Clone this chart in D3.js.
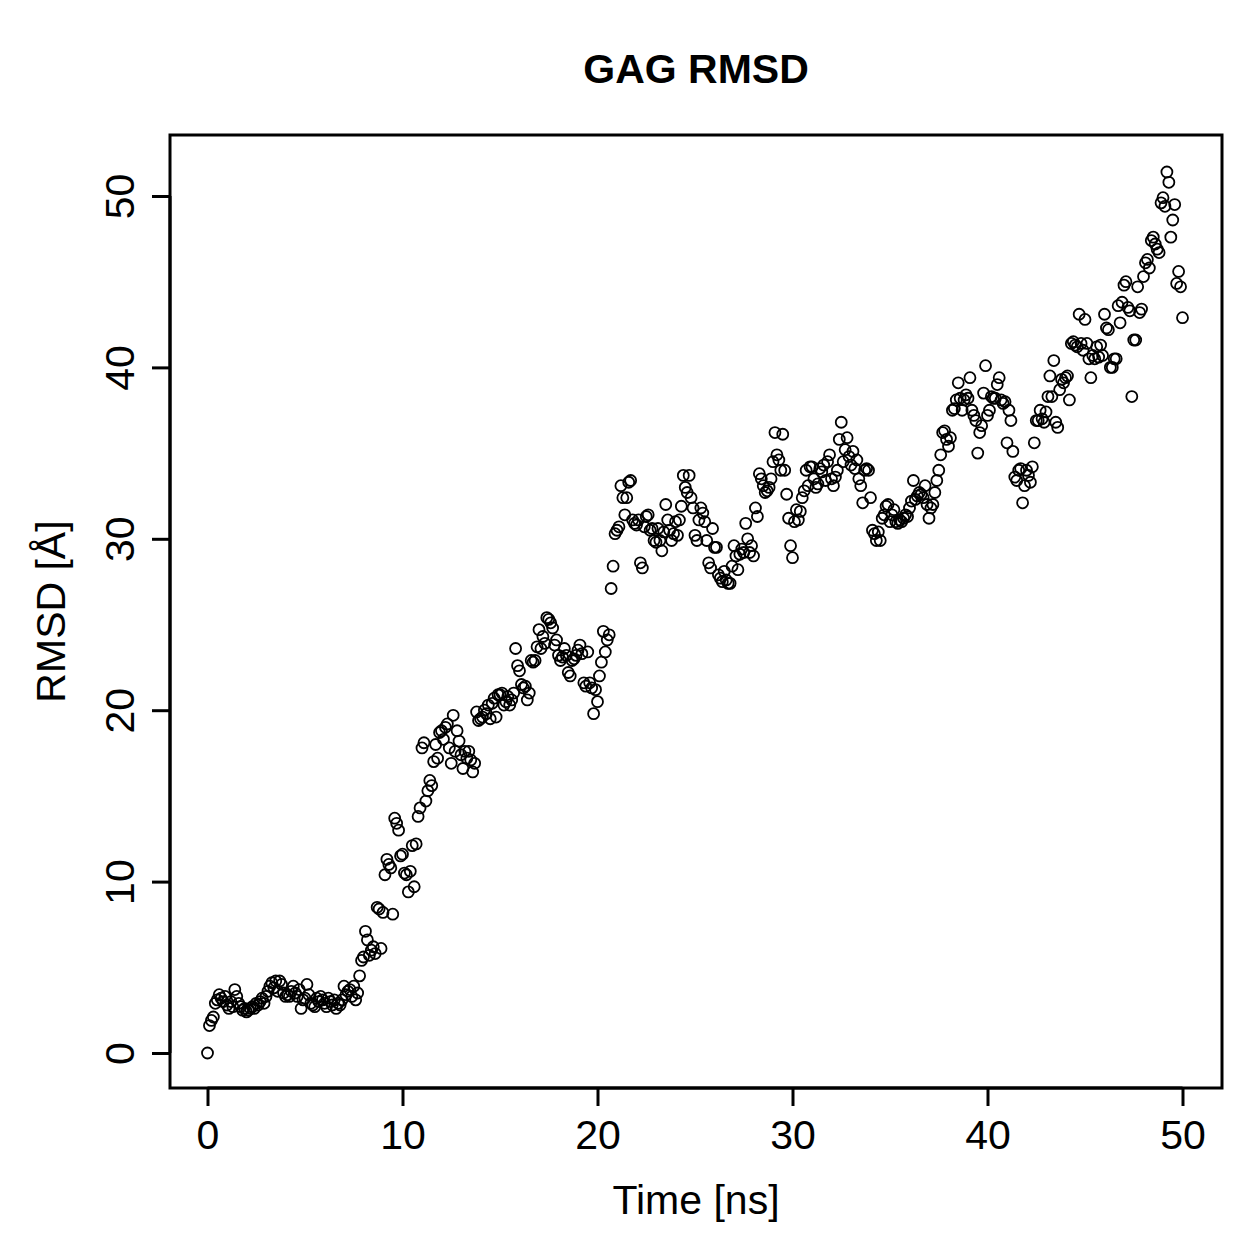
<!DOCTYPE html>
<html>
<head>
<meta charset="utf-8">
<script src="https://cdn.jsdelivr.net/npm/d3@7"></script>
<style>
  html, body { margin: 0; padding: 0; background: #fff; }
  svg { display: block; }
  text { font-family: "Liberation Sans", Arial, Helvetica, sans-serif; fill: #000; }
</style>
</head>
<body>
<svg id="chart" width="1259" height="1259"></svg>
<script>
// ---- Data (RMSD in Å, sampled every 0.1 ns from 0 to 50 ns) ----
const timeStep = 0.1;
const rmsd_0_10 = [
  0.0, 1.6, 1.9, 2.1, 2.9, 3.1, 3.4, 3.2, 3.0, 3.3,
  2.8, 2.6, 3.0, 2.7, 3.7, 3.3, 2.9, 2.7, 2.5, 2.6,
  2.4, 2.5, 2.6, 2.7, 2.6, 2.9, 2.8, 3.0, 3.2, 2.9,
  3.3, 3.6, 3.9, 4.1, 3.8, 4.2, 3.6, 4.2, 4.0, 3.5,
  3.3, 3.4, 3.3, 3.6, 3.9, 3.5, 3.3, 3.7, 2.6, 3.1,
  3.2, 4.0, 3.4, 2.9, 2.8, 2.7, 3.2, 3.0, 3.3, 3.1,
  2.9, 2.7, 3.2, 3.0, 2.8, 3.1, 2.6, 2.9, 2.8, 3.1,
  3.9, 3.4, 3.6, 3.7, 3.3, 3.9, 3.1, 3.5, 4.5, 5.4,
  5.6, 7.1, 6.6, 5.7, 6.0, 6.2, 5.8, 8.5, 8.4, 6.1,
  8.2, 10.4, 11.3, 11.0, 10.8, 8.1, 13.7, 13.4, 13.0, 11.5
];
const rmsd_10_20 = [
  11.6, 10.5, 10.4, 9.4, 10.6, 12.1, 9.7, 12.2, 13.8, 14.3,
  17.8, 18.1, 14.7, 15.3, 15.9, 15.6, 17.0, 18.0, 17.2, 18.7,
  18.8, 18.3, 19.0, 19.2, 17.8, 16.9, 19.7, 17.6, 18.8, 18.2,
  17.4, 16.6, 17.6, 17.2, 17.6, 17.1, 16.4, 16.9, 19.9, 19.4,
  19.5, 19.6, 20.0, 19.8, 20.3, 19.5, 20.4, 20.7, 19.6, 20.9,
  20.9, 21.0, 20.3, 20.5, 20.8, 20.3, 20.6, 21.0, 23.6, 22.6,
  22.3, 21.5, 21.3, 21.4, 20.6, 21.0, 22.9, 22.8, 22.9, 23.7,
  24.7, 23.6, 24.3, 23.9, 25.4, 25.3, 25.1, 24.8, 23.8, 24.1,
  23.2, 22.9, 23.1, 23.6, 23.2, 22.2, 22.0, 22.9, 23.0, 23.2,
  23.5, 23.8, 23.3, 21.6, 21.4, 23.4, 21.6, 21.3, 19.8, 21.2
];
const rmsd_20_30 = [
  20.5, 22.0, 22.8, 24.6, 23.4, 24.1, 24.4, 27.1, 28.4, 30.3,
  30.5, 30.7, 33.1, 32.4, 31.4, 32.4, 33.3, 33.4, 31.1, 30.9,
  30.8, 31.1, 28.6, 28.3, 30.7, 31.3, 31.4, 30.5, 30.6, 29.9,
  29.8, 30.6, 29.9, 29.3, 30.4, 32.0, 31.1, 30.5, 29.9, 30.3,
  31.0, 30.2, 31.1, 31.9, 33.7, 33.0, 32.7, 33.7, 32.4, 31.8,
  30.2, 29.9, 31.1, 31.8, 31.5, 31.0, 29.9, 28.6, 28.3, 30.6,
  29.5, 29.5, 27.9, 27.7, 27.5, 28.1, 27.6, 27.4, 27.4, 28.4,
  29.6, 29.0, 28.2, 29.1, 29.4, 29.2, 30.9, 30.0, 29.2, 29.6,
  29.0, 31.8, 31.3, 33.8, 33.5, 33.1, 32.7, 32.8, 33.0, 33.5,
  34.5, 36.2, 34.9, 34.6, 34.0, 36.1, 34.0, 32.6, 31.2, 29.6
];
const rmsd_30_40 = [
  28.9, 31.0, 31.7, 31.1, 31.6, 32.4, 32.8, 34.0, 33.1, 34.2,
  34.2, 33.5, 33.0, 33.2, 34.1, 33.9, 34.3, 33.4, 34.5, 34.9,
  33.5, 33.1, 33.6, 34.0, 35.8, 36.8, 34.5, 35.2, 35.9, 34.8,
  34.3, 35.1, 34.1, 34.6, 33.5, 33.1, 32.1, 34.0, 34.1, 34.0,
  32.4, 30.5, 30.3, 29.9, 30.4, 29.9, 31.2, 31.4, 31.9, 32.0,
  31.0, 31.4, 31.7, 31.0, 30.9, 31.1, 31.0, 31.2, 31.4, 31.3,
  31.8, 32.2, 33.4, 32.3, 32.5, 32.7, 32.6, 32.4, 33.1, 32.0,
  31.2, 31.8, 32.0, 32.7, 33.4, 34.0, 34.9, 36.2, 36.3, 35.8,
  35.4, 35.9, 37.5, 37.6, 38.1, 39.1, 38.2, 37.5, 38.1, 38.4,
  38.2, 39.4, 37.5, 37.2, 36.9, 35.0, 36.2, 36.6, 38.5, 40.1
];
const rmsd_40_50 = [
  37.2, 37.5, 38.3, 38.2, 38.2, 39.0, 39.4, 38.1, 37.9, 38.0,
  35.6, 37.5, 36.9, 35.1, 33.6, 33.4, 34.0, 34.1, 32.1, 33.1,
  34.0, 33.7, 33.3, 34.2, 35.6, 36.9, 36.9, 37.5, 37.0, 36.8,
  37.4, 38.3, 39.5, 38.3, 40.4, 36.8, 36.5, 38.7, 39.3, 39.1,
  39.4, 39.5, 38.1, 41.4, 41.5, 41.3, 41.2, 43.1, 41.4, 41.0,
  42.8, 41.4, 40.5, 39.4, 40.7, 40.5, 41.2, 40.6, 41.3, 40.7,
  43.1, 42.3, 42.2, 40.0, 40.0, 40.5, 40.5, 43.6, 42.6, 43.8,
  44.8, 45.0, 43.5, 43.3, 38.3, 41.6, 41.6, 44.7, 43.2, 43.4,
  45.3, 46.1, 46.3, 45.8, 47.4, 47.6, 47.2, 46.9, 46.7, 49.6,
  49.9, 49.4, 51.4, 50.8, 47.6, 48.6, 49.5, 44.9, 45.6, 44.7,
  42.9
];
const xTicks = [0, 10, 20, 30, 40, 50];
const yTicks = [0, 10, 20, 30, 40, 50];
const titleText = "GAG RMSD";
const xLabel = "Time [ns]";
const yLabel = "RMSD [Å]";

const rmsd = [].concat(rmsd_0_10, rmsd_10_20, rmsd_20_30, rmsd_30_40, rmsd_40_50);
const points = rmsd.map((v, i) => ({ t: +(i * timeStep).toFixed(1), v }));

// ---- Layout ----
const svg = d3.select("#chart");
const box = { left: 170, right: 1222, top: 135, bottom: 1088 };

const x = d3.scaleLinear().domain([0, 50]).range([207.5, 1182.5]);
const y = d3.scaleLinear().domain([0, 50]).range([1053, 196]);

// Points
svg.append("g")
  .selectAll("circle")
  .data(points)
  .join("circle")
  .attr("cx", d => x(d.t))
  .attr("cy", d => y(d.v))
  .attr("r", 5.5)
  .attr("fill", "none")
  .attr("stroke", "#000")
  .attr("stroke-width", 1.8);

// Box
svg.append("rect")
  .attr("x", box.left).attr("y", box.top)
  .attr("width", box.right - box.left).attr("height", box.bottom - box.top)
  .attr("fill", "none").attr("stroke", "#000").attr("stroke-width", 3);

// X axis
const xAxis = d3.axisBottom(x).tickValues(xTicks).tickSize(18).tickPadding(14).tickFormat(d3.format("d"));
const gx = svg.append("g").attr("transform", `translate(0,${box.bottom})`).call(xAxis);
gx.select(".domain").attr("stroke-width", 3).attr("d", `M${x(0)},0H${x(50)}`);
gx.selectAll(".tick line").attr("stroke-width", 3);
gx.selectAll(".tick text").style("font-size", "41px").style("font-family", "'Liberation Sans', Arial, sans-serif").attr("fill", "#000");

// Y axis
const yAxis = d3.axisLeft(y).tickValues(yTicks).tickSize(18).tickPadding(14).tickFormat(d3.format("d"));
const gy = svg.append("g").attr("transform", `translate(${box.left},0)`).call(yAxis);
gy.select(".domain").attr("stroke-width", 3).attr("d", `M0,${y(0)}V${y(50)}`);
gy.selectAll(".tick line").attr("stroke-width", 3);
gy.selectAll(".tick text")
  .style("font-size", "41px")
  .style("font-family", "'Liberation Sans', Arial, sans-serif")
  .attr("fill", "#000")
  .attr("x", null).attr("dy", null)
  .attr("text-anchor", "middle")
  .attr("transform", "translate(-36,0) rotate(-90)");

// Title and labels
svg.append("text")
  .attr("x", (box.left + box.right) / 2).attr("y", 83)
  .attr("text-anchor", "middle")
  .style("font-size", "41px").style("font-weight", "bold")
  .text(titleText);

svg.append("text")
  .attr("x", (box.left + box.right) / 2).attr("y", 1214)
  .attr("text-anchor", "middle")
  .style("font-size", "41px")
  .text(xLabel);

svg.append("text")
  .attr("transform", `translate(65,${(box.top + box.bottom) / 2}) rotate(-90)`)
  .attr("text-anchor", "middle")
  .style("font-size", "41px")
  .text(yLabel);
</script>
</body>
</html>
